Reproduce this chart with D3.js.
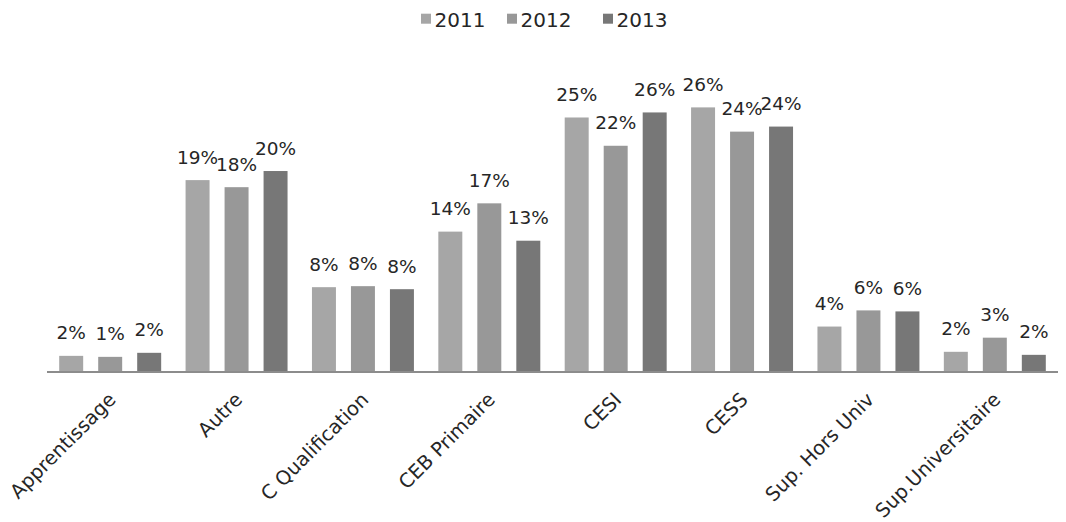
<!DOCTYPE html>
<html><head><meta charset="utf-8">
<script src="https://cdn.jsdelivr.net/npm/d3@7"></script>
<style>
html,body{margin:0;padding:0;background:#fff;}
text{font-family:"DejaVu Sans",sans-serif;fill:#262626;}
</style></head>
<body>
<svg id="chart" width="1066" height="522"></svg>
<script>
const categories = ["Apprentissage","Autre","C Qualification","CEB Primaire","CESI","CESS","Sup. Hors Univ","Sup.Universitaire"];
const years = ["2011","2012","2013"];
const values2011 = [1.5, 18.9, 8.3, 13.8, 25.1, 26.1, 4.4, 1.9];
const values2012 = [1.4, 18.2, 8.4, 16.6, 22.3, 23.7, 6.0, 3.3];
const values2013 = [1.8, 19.8, 8.1, 12.9, 25.6, 24.2, 5.9, 1.6];
const labels2011 = ["2%","19%","8%","14%","25%","26%","4%","2%"];
const labels2012 = ["1%","18%","8%","17%","22%","24%","6%","3%"];
const labels2013 = ["2%","20%","8%","13%","26%","24%","6%","2%"];
const colors = ["#a6a6a6","#989898","#777777"];

const series = [
  {year: years[0], values: values2011, labels: labels2011, color: colors[0]},
  {year: years[1], values: values2012, labels: labels2012, color: colors[1]},
  {year: years[2], values: values2013, labels: labels2013, color: colors[2]}
];

const svg = d3.select("#chart");
const baseline = 371;
const x0 = d3.scaleBand().domain(categories).range([47, 1058]).paddingInner(0).paddingOuter(0);
const x1 = d3.scaleBand().domain(years).range([0, x0.bandwidth()]).paddingInner(0.385).paddingOuter(0.313);
const y = d3.scaleLinear().domain([0, 30]).range([baseline, baseline - 303]);

// bars
const groups = svg.selectAll("g.cat").data(categories).enter().append("g")
  .attr("class","cat").attr("transform", d => `translate(${x0(d)},0)`);

series.forEach(s => {
  groups.append("rect")
    .attr("x", x1(s.year))
    .attr("width", x1.bandwidth())
    .attr("y", (d,i) => y(s.values[i]))
    .attr("height", (d,i) => y(0) - y(s.values[i]))
    .attr("fill", s.color);
  groups.append("text")
    .attr("x", x1(s.year) + x1.bandwidth()/2)
    .attr("y", (d,i) => y(s.values[i]) - 16.5)
    .attr("text-anchor","middle")
    .style("font-size","18.5px")
    .text((d,i) => s.labels[i]);
});

// axis
const xAxis = d3.axisBottom(x0).tickSize(0).tickPadding(0);
const ax = svg.append("g").attr("transform", `translate(0,${baseline})`).call(xAxis);
ax.select(".domain").attr("stroke","#8c8c8c").attr("stroke-width",2).attr("d", `M47,1H1058`);
ax.selectAll(".tick text")
  .attr("fill","#262626")
  .style("font-size","19.5px")
  .style("font-family","DejaVu Sans, sans-serif")
  .attr("text-anchor","end")
  .attr("transform","translate(2,25) rotate(-45)")
  .attr("dy","0.35em")
  .attr("y",0).attr("x",0);

// legend
const legendX = [421, 507, 603];
const lg = svg.append("g");
series.forEach((s,i) => {
  lg.append("rect").attr("x", legendX[i]).attr("y", 13.7).attr("width",10).attr("height",10).attr("fill", s.color);
  lg.append("text").attr("x", legendX[i] + 13.5).attr("y", 26.7).style("font-size","20px").text(s.year);
});
</script>
</body></html>
